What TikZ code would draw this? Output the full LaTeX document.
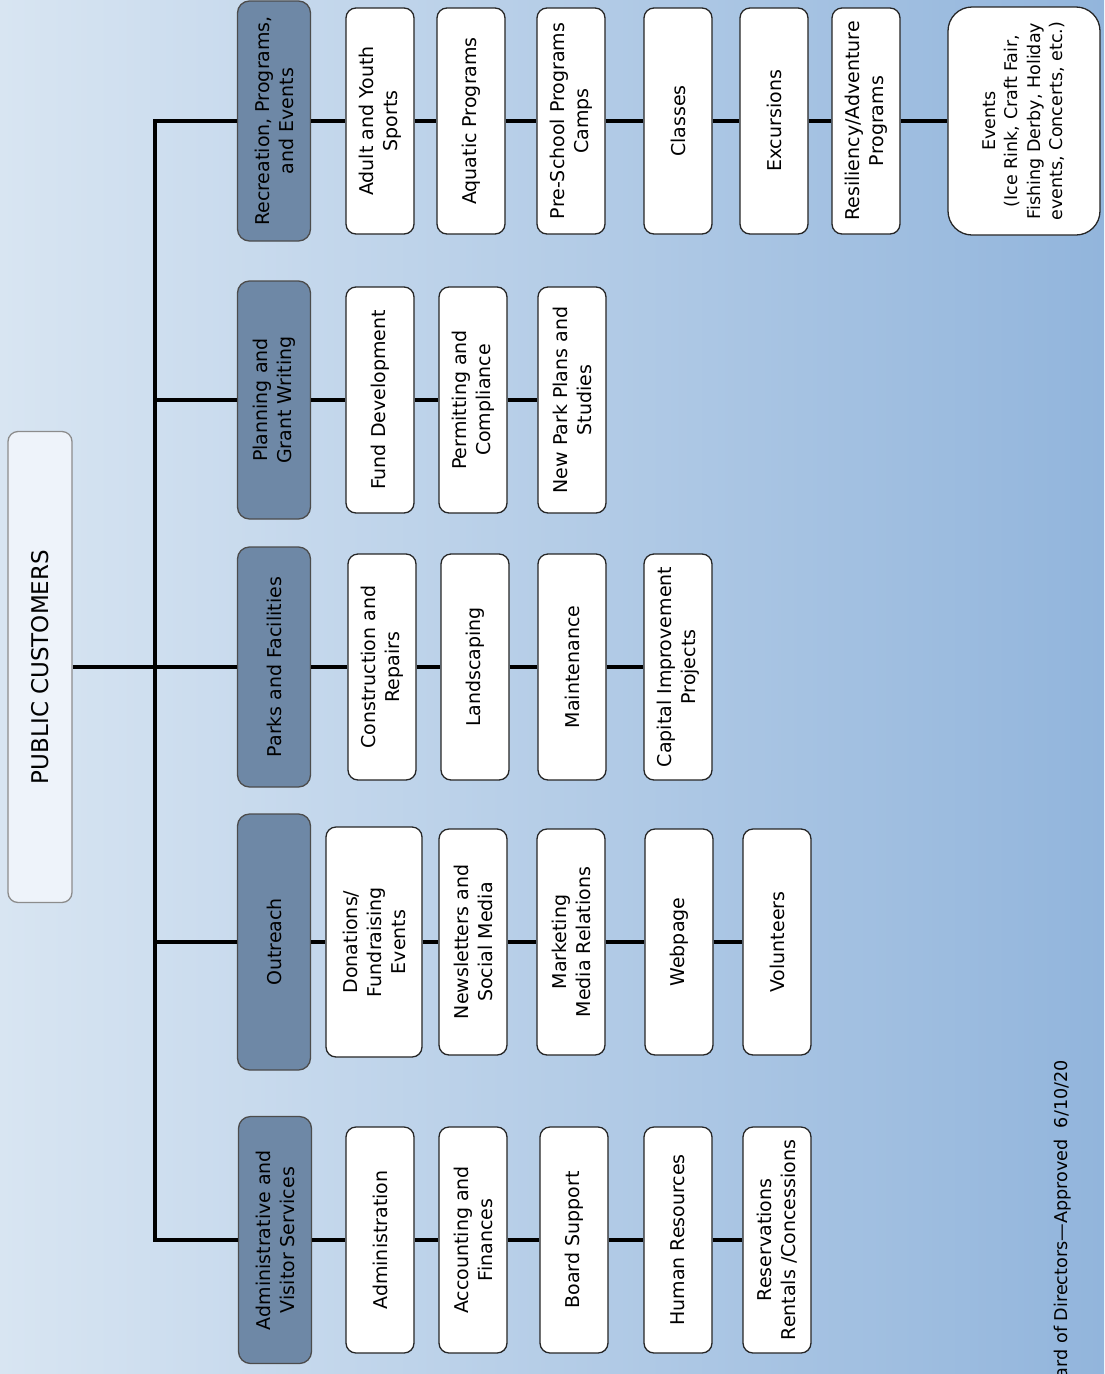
\documentclass[tikz,border=0pt]{standalone}
\usepackage{fontspec}
\setmainfont{DejaVu Sans}
\usetikzlibrary{positioning}

\definecolor{bgleft}{HTML}{D8E5F2}
\definecolor{bgright}{HTML}{92B5DC}
\definecolor{headfill}{HTML}{6E88A6}
\definecolor{rootfill}{HTML}{EEF3FA}

\tikzset{
    box/.style={rotate=90, draw=black!85, line width=1.3pt, rounded corners=10pt,
        align=center, inner sep=3pt, font=\fontsize{19}{24}\selectfont},
    unit/.style={box, fill=white, minimum width=226pt, minimum height=68pt},
    head/.style={box, fill=headfill, draw=black!70, rounded corners=12pt,
        minimum width=240pt, minimum height=73pt},
    root/.style={box, fill=rootfill, draw=black!45, minimum width=471pt,
        minimum height=64pt, font=\fontsize{23}{28}\selectfont},
    events/.style={minimum width=228pt, minimum height=152pt, rounded corners=24pt,
        font=\fontsize{17.5}{22.5}\selectfont},
    link/.style={line width=4.5pt},
}

\begin{document}
\begin{tikzpicture}[x=1pt, y=-1pt]
    \shade[left color=bgleft, right color=bgright] (0,0) rectangle (1104,1374);
    \useasboundingbox (0,0) rectangle (1104,1374);

    % top of the chart
    \node[root](pub)                at (40,667) {PUBLIC CUSTOMERS};
    \coordinate (hub)               at (155,667);

    % divisions
    \node[head](rec)                at (274,121) {Recreation, Programs,\\and Events};
    \node[head, minimum width=238pt](plan) at (274,400) {Planning and\\Grant Writing};
    \node[head](parks)              at (274,667) {Parks and Facilities};
    \node[head, minimum width=256pt](outr) at (274,942) {Outreach};
    \node[head, minimum width=247pt](adm)  at (275,1240) {Administrative and\\Visitor Services};

    % recreation, programs and events
    \node[unit](sports)             at (380,121) {Adult and Youth\\Sports};
    \node[unit](aquatic)            at (471,121) {Aquatic Programs};
    \node[unit](preschool)          at (571,121) {Pre-School Programs\\Camps};
    \node[unit](classes)            at (678,121) {Classes};
    \node[unit](excursions)         at (774,121) {Excursions};
    \node[unit](resiliency)         at (866,121) {Resiliency/Adventure\\Programs};
    \node[unit, events](happenings) at (1024,121) {Events\\(Ice Rink, Craft Fair,\\Fishing Derby, Holiday\\events, Concerts, etc.)};

    % planning and grant writing
    \node[unit](funds)              at (380,400) {Fund Development};
    \node[unit](permits)            at (473,400) {Permitting and\\Compliance};
    \node[unit](newpark)            at (572,400) {New Park Plans and\\Studies};

    % parks and facilities
    \node[unit](construction)       at (382,667) {Construction and\\Repairs};
    \node[unit](landscaping)        at (475,667) {Landscaping};
    \node[unit](maintenance)        at (572,667) {Maintenance};
    \node[unit](capital)            at (678,667) {Capital Improvement\\Projects};

    % outreach
    \node[unit, minimum height=96pt, minimum width=230pt](donations) at (374,942) {Donations/\\Fundraising\\Events};
    \node[unit](newsletters)        at (473,942) {Newsletters and\\Social Media};
    \node[unit](marketing)          at (571,942) {Marketing\\Media Relations};
    \node[unit](webpage)            at (679,942) {Webpage};
    \node[unit](volunteers)         at (777,942) {Volunteers};

    % administrative and visitor services
    \node[unit](administration)     at (380,1240) {Administration};
    \node[unit](accounting)         at (473,1240) {Accounting and\\Finances};
    \node[unit](board)              at (574,1240) {Board Support};
    \node[unit](hr)                 at (678,1240) {Human Resources};
    \node[unit](reservations)       at (777,1240) {Reservations\\Rentals /Concessions};

    \node[rotate=90, anchor=east, inner sep=0pt, font=\fontsize{17.6}{20}\selectfont](stamp)
        at (1063,1060) {ard of Directors—Approved\ \ 6/10/20};

    % trunk
    \draw[link] (pub) -- (parks);
    \draw[link] (rec) -| (hub);
    \draw[link] (plan) -| (hub);
    \draw[link] (outr) -| (hub);
    \draw[link] (adm) -| (hub);

    % rows
    \path[link]
        (rec)
            edge (sports)
        (sports)
            edge (aquatic)
        (aquatic)
            edge (preschool)
        (preschool)
            edge (classes)
        (classes)
            edge (excursions)
        (excursions)
            edge (resiliency)
        (resiliency)
            edge (happenings)
        (plan)
            edge (funds)
        (funds)
            edge (permits)
        (permits)
            edge (newpark)
        (parks)
            edge (construction)
        (construction)
            edge (landscaping)
        (landscaping)
            edge (maintenance)
        (maintenance)
            edge (capital)
        (outr)
            edge (donations)
        (donations)
            edge (newsletters)
        (newsletters)
            edge (marketing)
        (marketing)
            edge (webpage)
        (webpage)
            edge (volunteers)
        (adm)
            edge (administration)
        (administration)
            edge (accounting)
        (accounting)
            edge (board)
        (board)
            edge (hr)
        (hr)
            edge (reservations)
        ;
\end{tikzpicture}
\end{document}
